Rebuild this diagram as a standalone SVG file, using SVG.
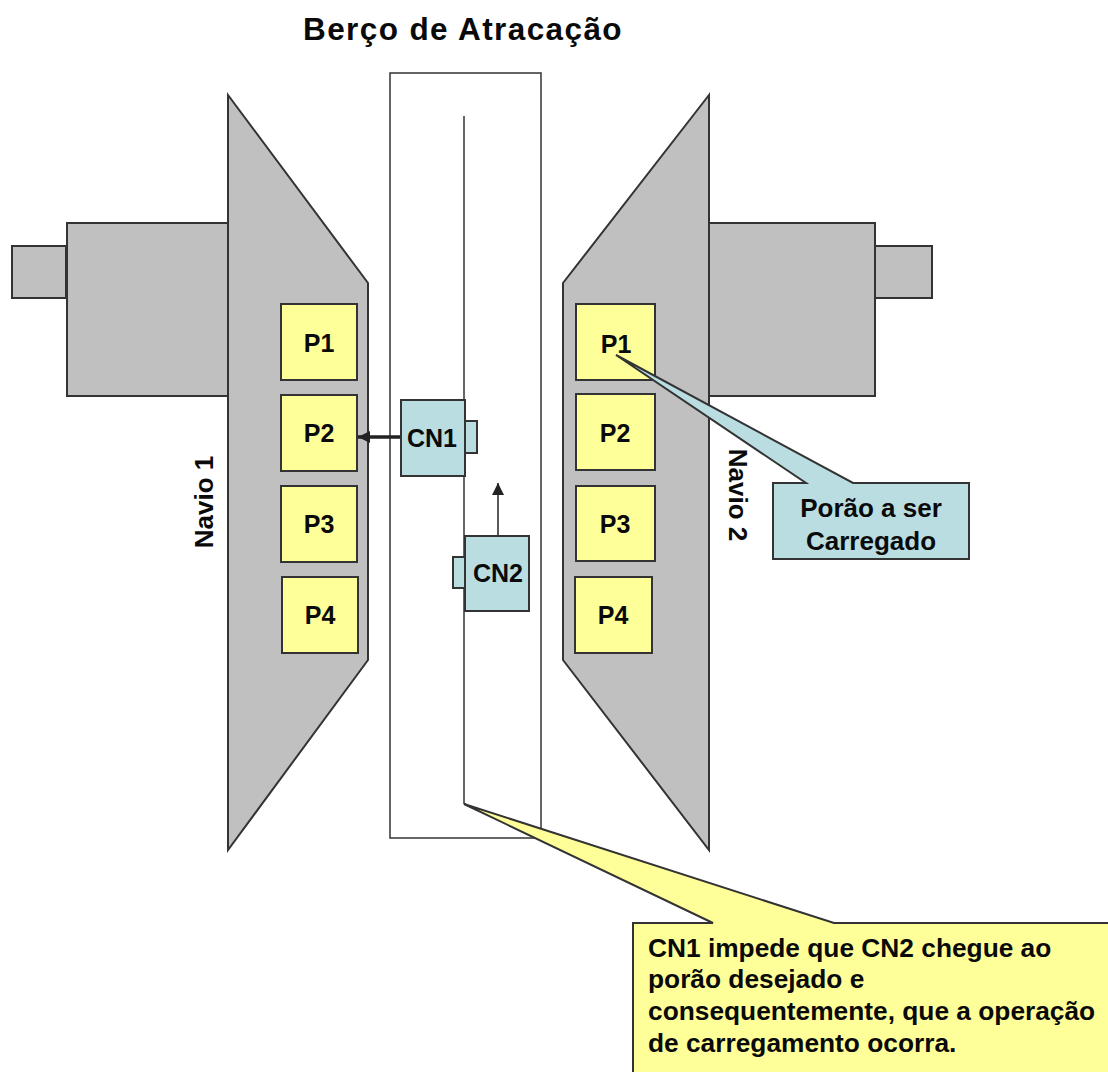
<svg xmlns="http://www.w3.org/2000/svg" width="1108" height="1072" viewBox="0 0 1108 1072">
<style>
text{font-family:"Liberation Sans",Arial,sans-serif;font-weight:bold;fill:#0a0a0a}
.g{fill:#c0c0c0;stroke:#333;stroke-width:2}
.y{fill:#ffff99;stroke:#333;stroke-width:2}
.t{fill:#b9dde1;stroke:#333;stroke-width:2}
.p{font-size:25px;text-anchor:middle}
.c{font-size:25px;text-anchor:middle}
.n{font-size:26px;text-anchor:middle}
.l{font-size:26.3px}
</style>
<defs>
<marker id="ah" markerWidth="12" markerHeight="12" refX="10" refY="5" orient="auto" markerUnits="userSpaceOnUse" viewBox="0 0 10 10"><path d="M0 0L10 5L0 10Z" fill="#222"/></marker>
</defs>
<rect width="1108" height="1072" fill="#fff"/>
<text id="title" x="463" y="40" font-size="31.5" letter-spacing="1.4" text-anchor="middle">Berço de Atracação</text>
<g id="berth"><rect x="390" y="73" width="151" height="765" fill="#fff" stroke="#333" stroke-width="1.5"/></g>
<g id="navio1">
<rect class="g" x="12" y="246" width="54" height="52"/>
<rect class="g" x="67" y="223" width="161" height="173"/>
<path class="g" d="M228 95L368 283V660L228 850Z"/>
<text class="n" transform="translate(213 502) rotate(-90)">Navio 1</text>
</g>
<g id="navio2">
<rect class="g" x="875" y="246" width="57" height="52"/>
<rect class="g" x="708" y="223" width="167" height="173"/>
<path class="g" d="M709 95L563 283V660L709 850Z"/>
<text class="n" transform="translate(729 495) rotate(90)">Navio 2</text>
</g>
<g id="n1p1"><rect class="y" x="281" y="304" width="76" height="76"/><text class="p" x="319" y="352">P1</text></g>
<g id="n1p2"><rect class="y" x="281" y="395" width="76" height="76"/><text class="p" x="319" y="442">P2</text></g>
<g id="n1p3"><rect class="y" x="281" y="486" width="76" height="76"/><text class="p" x="319" y="533">P3</text></g>
<g id="n1p4"><rect class="y" x="282" y="577" width="76" height="76"/><text class="p" x="320" y="624">P4</text></g>
<g id="n2p1"><rect class="y" x="576" y="304" width="79" height="76"/><text class="p" x="616" y="353">P1</text></g>
<g id="n2p2"><rect class="y" x="576" y="394" width="79" height="76"/><text class="p" x="615" y="442">P2</text></g>
<g id="n2p3"><rect class="y" x="576" y="486" width="79" height="75"/><text class="p" x="615" y="533">P3</text></g>
<g id="n2p4"><rect class="y" x="575" y="577" width="77" height="76"/><text class="p" x="613" y="624">P4</text></g>
<g id="connectors" fill="none" stroke="#222">
<path d="M464 116V804" stroke-width="1.5" stroke="#333"/>
<path d="M401 437H358" stroke-width="3.5" marker-end="url(#ah)"/>
<path d="M498 536V483" stroke-width="1.5" marker-end="url(#ah)"/>
</g>
<g id="cn1"><rect class="t" x="465" y="421" width="12" height="32"/><rect class="t" x="401" y="400" width="64" height="76"/><text class="c" x="432" y="447">CN1</text></g>
<g id="cn2"><rect class="t" x="453" y="557" width="12" height="31"/><rect class="t" x="465" y="536" width="64" height="75"/><text class="c" x="498" y="582">CN2</text></g>
<g id="callout1"><path class="t" d="M773 483H806L616 355L853 483H969V559H773Z"/>
<text class="n" x="871" y="517">Porão a ser</text><text class="n" x="871" y="550">Carregado</text></g>
<g id="callout2"><path class="y" d="M633 923H713L464 804L834 923H1112V1076H633Z"/>
<text class="l" x="648" y="957">CN1 impede que CN2 chegue ao</text>
<text class="l" x="648" y="988">porão desejado e</text>
<text class="l" x="648" y="1020">consequentemente, que a operação</text>
<text class="l" x="648" y="1052">de carregamento ocorra.</text></g>
</svg>
